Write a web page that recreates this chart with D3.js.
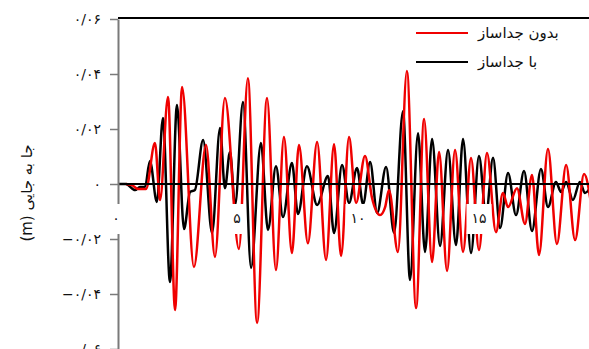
<!DOCTYPE html>
<html>
<head>
<meta charset="utf-8">
<script src="https://cdn.jsdelivr.net/npm/d3@7"></script>
<style>
    body { margin: 0; background: white; }
    svg { display: block; font-family: "DejaVu Sans", sans-serif; }
</style>
</head>
<body>
<div id="container"></div>
<script>
// time (s) and displacement (m), peak by peak
const blackTime = [0.08, 0.41, 0.79, 0.99, 1.20, 1.40, 1.69, 1.94, 2.23, 2.52, 2.81, 3.06, 3.26, 3.60, 3.97,
    4.30, 4.50, 4.71, 4.92, 5.25, 5.58, 5.99, 6.28, 6.61, 6.90, 7.27, 7.52, 7.89, 8.31, 8.76,
    9.01, 9.34, 9.63, 9.96, 10.21, 10.50, 10.79, 11.16, 11.49, 11.86, 12.15, 12.48, 12.77, 13.06, 13.39,
    13.72, 14.05, 14.34, 14.67, 15.00, 15.29, 15.58, 15.87, 16.20, 16.53, 16.86, 17.19, 17.56, 17.85, 18.18,
    18.39, 18.60, 18.88, 19.17, 19.38, 19.67];
const blackDisp = [0, 0, -0.0022, -0.0011, -0.0011, 0.0084, -0.0065, 0.0240, -0.0356, 0.0287, -0.0164, -0.0029, -0.0022, 0.0160, -0.0178,
    0.0204, -0.0015, 0.0116, -0.0076, 0.0298, -0.0305, 0.0149, -0.0167, 0.0065, -0.0120, 0.0076, -0.0109, 0.0065, -0.0076, 0.0029,
    -0.0178, 0.0069, -0.0069, 0.0058, -0.0073, 0.0080, -0.0105, 0.0062, -0.0178, 0.0265, -0.0349, 0.0185, -0.0247, 0.0164, -0.0225,
    0.0124, -0.0222, 0.0164, -0.0251, 0.0102, -0.0113, 0.0095, -0.0160, 0.0040, -0.0113, 0.0047, -0.0171, 0.0055, -0.0084, 0.0007,
    -0.0029, 0.0007, -0.0058, 0.0007, -0.0033, 0];

const redTime = [0.41, 0.66, 0.91, 1.24, 1.61, 1.82, 2.15, 2.44, 2.73, 3.22, 3.72, 4.09, 4.50, 5.08, 5.45,
    5.83, 6.24, 6.61, 6.94, 7.27, 7.56, 7.93, 8.31, 8.68, 9.01, 9.30, 9.63, 9.92, 10.29, 10.58,
    10.91, 11.12, 11.28, 11.65, 12.02, 12.40, 12.73, 13.06, 13.35, 13.68, 14.01, 14.34, 14.67, 15.00, 15.33,
    15.70, 15.99, 16.20, 16.57, 16.90, 17.19, 17.48, 17.85, 18.22, 18.60, 18.97, 19.34, 19.67];
const redDisp = [0, -0.0004, -0.0018, -0.0018, 0.0149, -0.0058, 0.0316, -0.0458, 0.0353, -0.0302, 0.0142, -0.0265, 0.0313, -0.0236, 0.0385,
    -0.0505, 0.0313, -0.0313, 0.0171, -0.0251, 0.0142, -0.0215, 0.0153, -0.0276, 0.0145, -0.0262, 0.0171, -0.0069, 0.0102, -0.0051,
    -0.0113, -0.0084, -0.0022, -0.0247, 0.0411, -0.0451, 0.0236, -0.0284, 0.0116, -0.0316, 0.0124, -0.0247, 0.0095, -0.0240, 0.0113,
    -0.0175, -0.0033, -0.0084, -0.0015, -0.0145, 0.0033, -0.0258, 0.0127, -0.0218, 0.0069, -0.0204, 0.0036, -0.0095];

const xTicks = [0, 5, 10, 15, 20];
const xTickLabels = ['۰', '۵', '۱۰', '۱۵', '۲۰'];
const yTicks = [-0.06, -0.04, -0.02, 0, 0.02, 0.04, 0.06];
const yTickLabels = ['−۰/۰۶', '−۰/۰۴', '−۰/۰۲', '۰', '۰/۰۲', '۰/۰۴', '۰/۰۶'];

const seriesNames = ['بدون جداساز', 'با جداساز'];
const seriesColors = ['#f00000', '#000000'];
const yTitle = 'جا به جایی (m)';

const config = {
    width: 589,
    height: 349,
    axisX: 118,
    plotTop: 18,
}

const series = [
    {name: seriesNames[0], color: seriesColors[0], points: redTime.map((t, i) => [t, redDisp[i]])},
    {name: seriesNames[1], color: seriesColors[1], points: blackTime.map((t, i) => [t, blackDisp[i]])},
];

const svg = d3.select('#container')
    .append('svg')
    .attr('width', config.width)
    .attr('height', config.height)

const xScale = d3.scaleLinear()
    .domain([0, 20])
    .range([116, 600])

const yScale = d3.scaleLinear()
    .domain([-0.06, 0.06])
    .range([349, 19])

svg.append('clipPath')
    .attr('id', 'plot-clip')
    .append('rect')
    .attr('x', config.axisX)
    .attr('y', 0)
    .attr('width', config.width - config.axisX)
    .attr('height', config.height)

const line = d3.line()
    .x(d => xScale(d[0]))
    .y(d => yScale(d[1]))
    .curve(d3.curveMonotoneX)

// black under red
svg.append('g')
    .attr('clip-path', 'url(#plot-clip)')
    .selectAll('path')
    .data([series[1], series[0]])
    .join('path')
    .attr('d', d => line(d.points))
    .attr('fill', 'none')
    .attr('stroke', d => d.color)
    .attr('stroke-width', 2.5)
    .attr('stroke-linejoin', 'round')

// zero line and top frame
svg.append('line')
    .attr('x1', config.axisX).attr('x2', config.width)
    .attr('y1', yScale(0)).attr('y2', yScale(0))
    .attr('stroke', 'black')
    .attr('stroke-width', 2.2)

svg.append('line')
    .attr('x1', config.axisX).attr('x2', config.width)
    .attr('y1', config.plotTop).attr('y2', config.plotTop)
    .attr('stroke', 'black')
    .attr('stroke-width', 2.2)

const yAxis = svg.append('g')
    .attr('class', 'y-axis')
    .attr('transform', `translate(${config.axisX},0)`)
    .call(d3.axisLeft(yScale)
        .tickValues(yTicks)
        .tickFormat((d, i) => yTickLabels[i])
        .tickSize(8)
        .tickSizeOuter(0)
        .tickPadding(9))

yAxis.select('.domain')
    .attr('stroke', '#7a7a7a')
    .attr('stroke-width', 2)
yAxis.selectAll('.tick line')
    .attr('stroke', '#7a7a7a')
    .attr('stroke-width', 1.5)
yAxis.selectAll('.tick text')
    .style('font-size', '14px')
    .style('fill', '#111')
    .attr('font-family', '"DejaVu Sans", sans-serif')

// x tick labels sit in white boxes on top of the curves
const xLabels = svg.append('g')
    .attr('class', 'x-labels')
    .selectAll('g')
    .data(xTicks)
    .join('g')
    .attr('transform', d => `translate(${xScale(d)},219)`)

xLabels.append('rect')
    .attr('fill', 'white')

xLabels.append('text')
    .text((d, i) => xTickLabels[i])
    .attr('text-anchor', 'middle')
    .attr('dominant-baseline', 'middle')
    .style('font-size', '14px')
    .style('fill', '#111')

xLabels.each(function () {
    const g = d3.select(this);
    const w = g.select('text').node().getComputedTextLength();
    g.select('rect')
        .attr('x', -w / 2 - 5)
        .attr('y', -15)
        .attr('width', w + 10)
        .attr('height', 30)
})

svg.append('text')
    .attr('text-anchor', 'middle')
    .attr('direction', 'rtl')
    .attr('transform', 'translate(27,193) rotate(-90)')
    .attr('dominant-baseline', 'middle')
    .text(yTitle)
    .style('font-size', '15px')
    .style('fill', '#111')

const legend = svg.append('g').attr('class', 'legend')

legend.selectAll('line')
    .data(series)
    .join('line')
    .attr('x1', 416)
    .attr('x2', 468)
    .attr('y1', (_, i) => 33 + 29 * i)
    .attr('y2', (_, i) => 33 + 29 * i)
    .attr('stroke', d => d.color)
    .attr('stroke-width', 2.2)

legend.selectAll('text')
    .data(series)
    .join('text')
    .text(d => d.name)
    .attr('x', 478)
    .attr('y', (_, i) => 33 + 29 * i)
    .attr('dominant-baseline', 'middle')
    .style('font-size', '15px')
    .style('fill', '#111')
</script>
</body>
</html>
